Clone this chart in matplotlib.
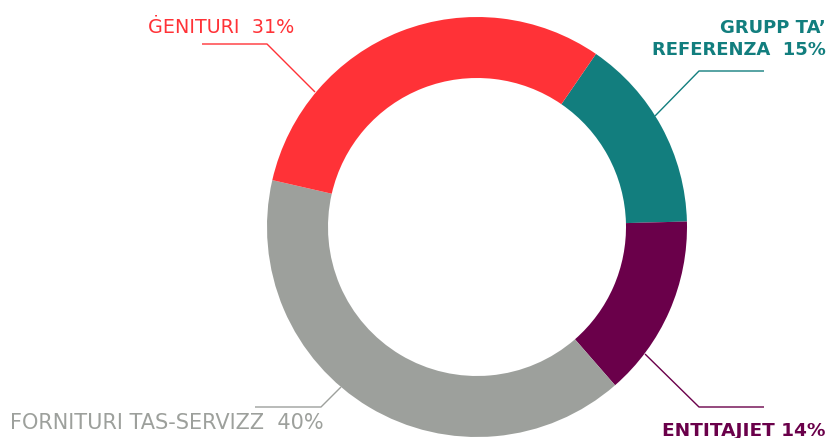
import matplotlib
matplotlib.use("Agg")
import matplotlib.pyplot as plt

# data
labels = ["GRUPP TA’\nREFERENZA  15%", "ENTITAJIET 14%", "FORNITURI TAS-SERVIZZ  40%", "ĠENITURI  31%"]
shares = [15, 14, 40, 31]
colors = ["#127E7E", "#6A004A", "#9DA09C", "#FF3237"]

W, H = 828, 439
CX, CY = 477, 228          # donut centre in screen pixels
R_OUT, RING = 210, 61

# leader lines (screen px) and label anchors
leaders = [
    [(655, 117), (699, 72), (764, 72)],
    [(645, 355), (699, 408), (764, 408)],
    [(341, 388), (321, 408), (255, 408)],
    [(315, 93), (267, 45), (202, 45)],
]
label_pos = [(826, 39, "right"), (826, 431, "right"), (10, 423, "left"), (148, 27, "left")]
weights = ["bold", "bold", "normal", "normal"]
sizes = [13, 13.3, 15, 13.8]

fig = plt.figure(figsize=(W / 100, H / 100), dpi=100)
ax = fig.add_axes([0, 0, 1, 1])

ax.pie(shares, colors=colors, startangle=55.5, counterclock=False,
       center=(CX, H - CY), radius=R_OUT,
       wedgeprops=dict(width=RING, linewidth=0))

for pts, col in zip(leaders, colors):
    xs = [p[0] for p in pts]
    ys = [H - p[1] for p in pts]
    ax.plot(xs, ys, color=col, lw=1.0, solid_capstyle="butt")

for lab, (x, y, ha), col, w, fs in zip(labels, label_pos, colors, weights, sizes):
    ax.text(x, H - y, lab, color=col, ha=ha, va="center", fontsize=fs,
            fontweight=w, family="DejaVu Sans", linespacing=1.35)

ax.set_xlim(0, W)
ax.set_ylim(0, H)
ax.set_aspect("equal")
ax.axis("off")

fig.savefig("out.png", dpi=100)
